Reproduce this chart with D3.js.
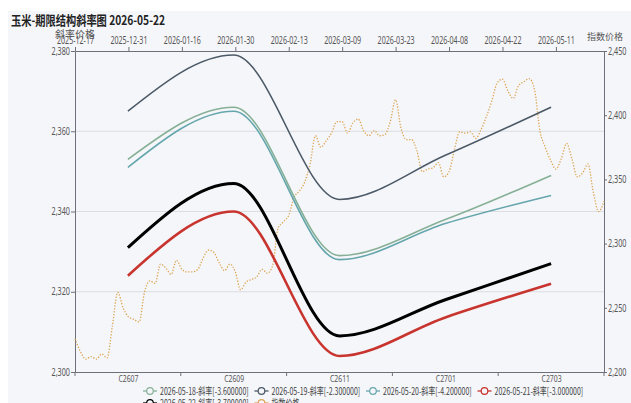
<!DOCTYPE html>
<html><head><meta charset="utf-8">
<script src="https://cdn.jsdelivr.net/npm/d3@7/dist/d3.min.js"></script>
<style>
body{margin:0;background:#fff;}
svg{display:block;font-family:"Noto Sans CJK SC","Noto Sans",sans-serif;}
</style>
</head><body>
<svg id="chart" width="631" height="403"></svg>
<script>
// ---------------- data ----------------
const contracts = ["C2607","C2609","C2611","C2701","C2703"];
const slope0518 = [2353, 2366, 2329, 2338, 2349];
const slope0519 = [2365, 2379, 2343, 2354, 2366];
const slope0520 = [2351, 2365, 2328, 2337, 2344];
const slope0521 = [2324, 2340, 2304, 2313.6, 2322];
const slope0522 = [2331, 2347, 2309, 2318, 2327];
const seriesNames = ["2026-05-18-斜率[-3.600000]","2026-05-19-斜率[-2.300000]","2026-05-20-斜率[-4.200000]","2026-05-21-斜率[-3.000000]","2026-05-22-斜率[-3.700000]"];
const priceName = "指数价格";
const dates = [
"2025-12-17","2025-12-18","2025-12-19","2025-12-22","2025-12-23","2025-12-24","2025-12-25","2025-12-26","2025-12-29","2025-12-30",
"2025-12-31","2026-01-05","2026-01-06","2026-01-07","2026-01-08","2026-01-09","2026-01-12","2026-01-13","2026-01-14","2026-01-15",
"2026-01-16","2026-01-19","2026-01-20","2026-01-21","2026-01-22","2026-01-23","2026-01-26","2026-01-27","2026-01-28","2026-01-29",
"2026-01-30","2026-02-02","2026-02-03","2026-02-04","2026-02-05","2026-02-06","2026-02-09","2026-02-10","2026-02-11","2026-02-12",
"2026-02-13","2026-02-24","2026-02-25","2026-02-26","2026-02-27","2026-03-02","2026-03-03","2026-03-04","2026-03-05","2026-03-06",
"2026-03-09","2026-03-10","2026-03-11","2026-03-12","2026-03-13","2026-03-16","2026-03-17","2026-03-18","2026-03-19","2026-03-20",
"2026-03-23","2026-03-24","2026-03-25","2026-03-26","2026-03-27","2026-03-30","2026-03-31","2026-04-01","2026-04-02","2026-04-07",
"2026-04-08","2026-04-09","2026-04-10","2026-04-13","2026-04-14","2026-04-15","2026-04-16","2026-04-17","2026-04-20","2026-04-21",
"2026-04-22","2026-04-23","2026-04-24","2026-04-27","2026-04-28","2026-04-29","2026-04-30","2026-05-06","2026-05-07","2026-05-08",
"2026-05-11","2026-05-12","2026-05-13","2026-05-14","2026-05-15","2026-05-18","2026-05-19","2026-05-20","2026-05-21","2026-05-22"];
const indexPrice = [
2226,2216,2210,2212,2210,2214,2211,2236,2262,2250,
2243,2241,2239,2262,2271,2269,2284,2281,2276,2287,
2280,2278,2278,2280,2289,2295,2293,2285,2279,2284,
2278,2264,2270,2272,2274,2280,2277,2283,2312,2317,
2322,2336,2341,2348,2362,2384,2375,2380,2386,2395,
2395,2386,2394,2397,2388,2384,2388,2384,2385,2395,
2412,2390,2381,2381,2372,2356,2358,2359,2363,2352,
2356,2373,2387,2386,2387,2382,2389,2399,2411,2425,
2428,2419,2413,2423,2426,2428.5,2420,2388,2375,2365,
2358,2366,2378,2366,2352,2355,2362,2340,2325,2333];
const leftTicks = [2300,2320,2340,2360,2380];
const rightTicks = [2200,2250,2300,2350,2400,2450];
const dateTickEvery = 10;

// ---------------- styles ----------------
const slopeSeries = [slope0518, slope0519, slope0520, slope0521, slope0522];
const slopeColors = ["#86b096","#4b5966","#65a6ad","#c8352f","#000000"];
const slopeWidths = [1.6,1.6,1.6,2.6,3];
const priceColor = "#dda552";
const narrowFont = "'Liberation Sans Narrow','Noto Sans',sans-serif";

// ---------------- layout ----------------
const W = 631, H = 403;
const L = 75, R = 604, T = 51, B = 372;
const svg = d3.select("#chart");

function squeezeTo(sel, target){
  sel.each(function(){
    const n = this.getComputedTextLength();
    if (n > target) d3.select(this).attr("textLength", target).attr("lengthAdjust","spacingAndGlyphs");
  });
}
function squeeze(sel, f){
  sel.each(function(){
    const n = this.getComputedTextLength();
    d3.select(this).attr("textLength", n*f).attr("lengthAdjust","spacingAndGlyphs");
  });
}

svg.append("rect").attr("x",8).attr("y",11).attr("width",W-8).attr("height",H-11).attr("fill","#f5f6fa");

const title = svg.append("text").attr("x",11).attr("y",25)
  .attr("font-size",13).attr("font-weight","bold").attr("fill","#222")
  .text("玉米-期限结构斜率图 2026-05-22");
title.attr("textLength",154).attr("lengthAdjust","spacingAndGlyphs");

const yL = d3.scaleLinear().domain([2300,2380]).range([B,T]);
const yR = d3.scaleLinear().domain([2200,2450]).range([B,T]);
const xc = d3.scalePoint().domain(contracts).range([L,R]).padding(0.5);
const xd = d3.scalePoint().domain(dates).range([L,R]).padding(0);

// grid
svg.append("g").selectAll("line").data(leftTicks.filter(v=>v>2300 && v<2380)).join("line")
  .attr("x1",L).attr("x2",R).attr("y1",d=>yL(d)).attr("y2",d=>yL(d))
  .attr("stroke","#dcdde0").attr("stroke-width",1);

const axisColor = "#6e7079", labelColor = "#555";
function styleAxis(g, fs){
  g.selectAll("path.domain").attr("stroke",axisColor);
  g.selectAll(".tick line").attr("stroke",axisColor);
  g.selectAll("text").attr("fill",labelColor).attr("font-size",fs || 10)
    .attr("font-family",narrowFont);
}

// left axis
const gL = svg.append("g").attr("transform",`translate(${L},0)`)
  .call(d3.axisLeft(yL).tickValues(leftTicks).tickFormat(d3.format(",")).tickSize(4).tickSizeOuter(0).tickPadding(1));
styleAxis(gL); squeezeTo(gL.selectAll("text"),18.5);
// right axis
const gR = svg.append("g").attr("transform",`translate(${R},0)`)
  .call(d3.axisRight(yR).tickValues(rightTicks).tickFormat(d3.format(",")).tickSize(3).tickSizeOuter(0).tickPadding(1));
styleAxis(gR); squeezeTo(gR.selectAll("text"),18.5);
// top date axis
const gT = svg.append("g").attr("transform",`translate(0,${T})`)
  .call(d3.axisTop(xd).tickValues(dates.filter((d,i)=>i%dateTickEvery===0)).tickSize(4).tickSizeOuter(0).tickPadding(3));
styleAxis(gT); squeezeTo(gT.selectAll("text"),37);
// bottom contract axis
const gB = svg.append("g").attr("transform",`translate(0,${B})`)
  .call(d3.axisBottom(xc).tickSize(0).tickSizeOuter(0).tickPadding(3));
styleAxis(gB, 9.5); squeezeTo(gB.selectAll("text"),20);
const step = xc.step();
gB.selectAll("line.bnd").data(contracts.concat([null]).map((c,i)=>i)).join("line").attr("class","bnd")
  .attr("x1",i=>L+i*step).attr("x2",i=>L+i*step).attr("y1",0).attr("y2",4).attr("stroke",axisColor);

// axis names
const nameL = svg.append("text").attr("x",L).attr("y",38).attr("text-anchor","middle")
  .attr("font-size",10).attr("fill",labelColor).text("斜率价格");
const nameR = svg.append("text").attr("x",R+1).attr("y",40).attr("text-anchor","middle")
  .attr("font-size",9).attr("fill",labelColor).text("指数价格");

// price dotted line
const priceLine = d3.line().x((d,i)=>xd(dates[i])).y(d=>yR(d)).curve(d3.curveMonotoneX);
svg.append("path").datum(indexPrice).attr("d",priceLine).attr("fill","none")
  .attr("stroke",priceColor).attr("stroke-width",1.3).attr("stroke-dasharray","1.3 1.6");

// slope lines
const slopeLine = d3.line().x((d,i)=>xc(contracts[i])).y(d=>yL(d)).curve(d3.curveMonotoneX);
slopeSeries.forEach((s,k)=>{
  svg.append("path").datum(s).attr("d",slopeLine).attr("fill","none")
    .attr("stroke",slopeColors[k]).attr("stroke-width",slopeWidths[k]).attr("stroke-linejoin","round");
});

// legend
const legendItems = seriesNames.map((n,k)=>({name:n,color:slopeColors[k]})).concat([{name:priceName,color:priceColor}]);
const legX0 = 150, legStep = 111.5, legRow = [391, 403], perRow = 4;
legendItems.forEach((it,k)=>{
  const col = k%perRow, row = Math.floor(k/perRow);
  const cx = legX0 + col*legStep, cy = legRow[row];
  const g = svg.append("g");
  g.append("line").attr("x1",cx-7).attr("x2",cx+7).attr("y1",cy).attr("y2",cy).attr("stroke",it.color).attr("stroke-width",1.3);
  g.append("circle").attr("cx",cx).attr("cy",cy).attr("r",3.3).attr("fill","#f5f6fa").attr("stroke",it.color).attr("stroke-width",1.2);
  const t = g.append("text").attr("x",cx+10).attr("y",cy+3.5).attr("font-size",10).attr("fill","#444").text(it.name);
  squeeze(t,0.7);
});
</script>
</body></html>
